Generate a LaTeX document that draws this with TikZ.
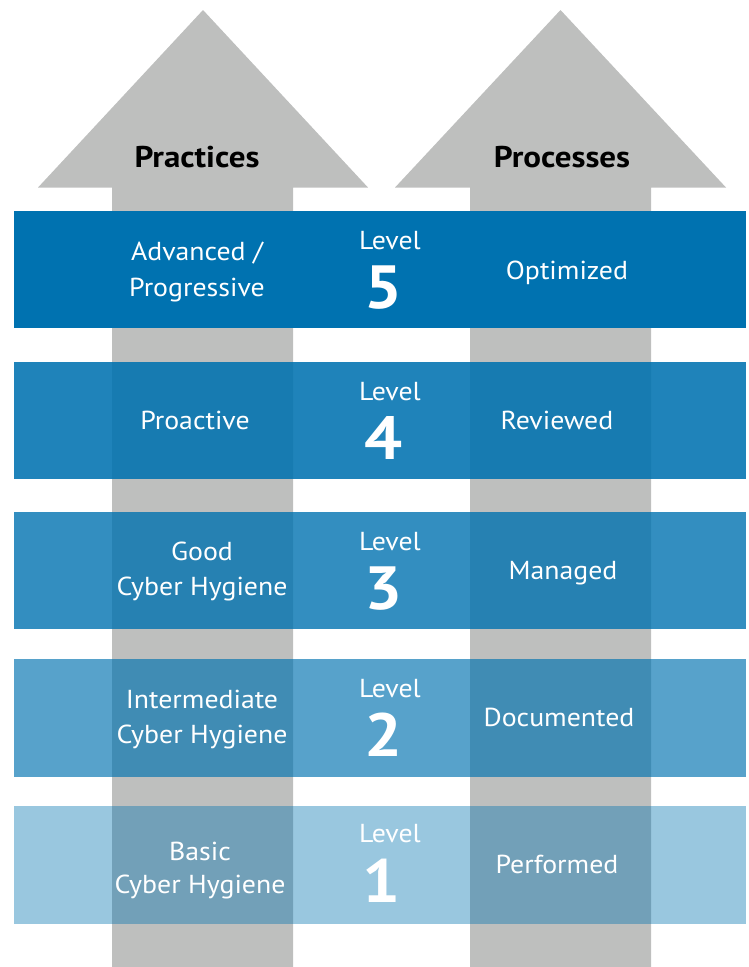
\documentclass[tikz,border=0pt]{standalone}
\usepackage{fontspec}
\setmainfont{PT Sans}
\newfontfamily\bodyfont[FakeStretch=1.07]{PT Sans}
\newfontfamily\headfont[FakeStretch=1.1]{PT Sans}
\definecolor{arrowgray}{RGB}{190,191,190}
\definecolor{bandblue}{RGB}{0,114,176}
\begin{document}
\begin{tikzpicture}[x=1pt,y=-1pt,
  arrowshape/.style={fill=arrowgray,draw=none},
  band/.style={fill=bandblue,draw=none},
  txt/.style={text=white,anchor=base,inner sep=0pt,font=\bodyfont\fontsize{26}{30}\selectfont},
  num/.style={text=white,anchor=base,inner sep=0pt,font=\headfont\fontsize{61}{70}\selectfont\bfseries},
  title/.style={text=black,anchor=base,inner sep=0pt,font=\headfont\fontsize{30}{34}\selectfont\bfseries}]
\useasboundingbox (0,0) rectangle (749,967);
% arrows
\fill[arrowshape] (112,967) -- (112,187.5) -- (38,187.5) -- (203,10) -- (368,187.5) -- (293,187.5) -- (293,967) -- cycle;
\fill[arrowshape] (470,967) -- (470,187.5) -- (395,187.5) -- (560.5,10) -- (726,187.5) -- (651,187.5) -- (651,967) -- cycle;
\node[title] (practices) at (197,167) {Practices};
\node[title] (processes) at (562,167) {Processes};
% bands
\path[band] (14,211) rectangle (746,328);
\path[band,fill opacity=0.88] (14,362) rectangle (746,479);
\path[band,fill opacity=0.8] (14,512) rectangle (746,629);
\path[band,fill opacity=0.66] (14,659) rectangle (746,777);
\path[band,fill opacity=0.4] (14,806) rectangle (746,924);
% level 5
\node[txt] (p5a) at (197,260) {Advanced /};
\node[txt] (p5b) at (197,296) {Progressive};
\node[txt] (l5) at (390,249) {Level};
\node[num] (n5) at (384,308) {5};
\node[txt] (r5) at (567,279) {Optimized};
% level 4
\node[txt] (p4) at (195,429) {Proactive};
\node[txt] (l4) at (390,400) {Level};
\node[num] (n4) at (384,459) {4};
\node[txt] (r4) at (557,429) {Reviewed};
% level 3
\node[txt] (p3a) at (202,560) {Good};
\node[txt] (p3b) at (202,595) {Cyber Hygiene};
\node[txt] (l3) at (390,550) {Level};
\node[num] (n3) at (384,609) {3};
\node[txt] (r3) at (563,579) {Managed};
% level 2
\node[txt] (p2a) at (202,708) {Intermediate};
\node[txt] (p2b) at (202,743) {Cyber Hygiene};
\node[txt] (l2) at (390,697) {Level};
\node[num] (n2) at (384,756) {2};
\node[txt] (r2) at (559,726) {Documented};
% level 1
\node[txt] (p1a) at (200,860) {Basic};
\node[txt] (p1b) at (200,893) {Cyber Hygiene};
\node[txt] (l1) at (390,842) {Level};
\node[num] (n1) at (382,902) {1};
\node[txt] (r1) at (557,873) {Performed};
\end{tikzpicture}
\end{document}
